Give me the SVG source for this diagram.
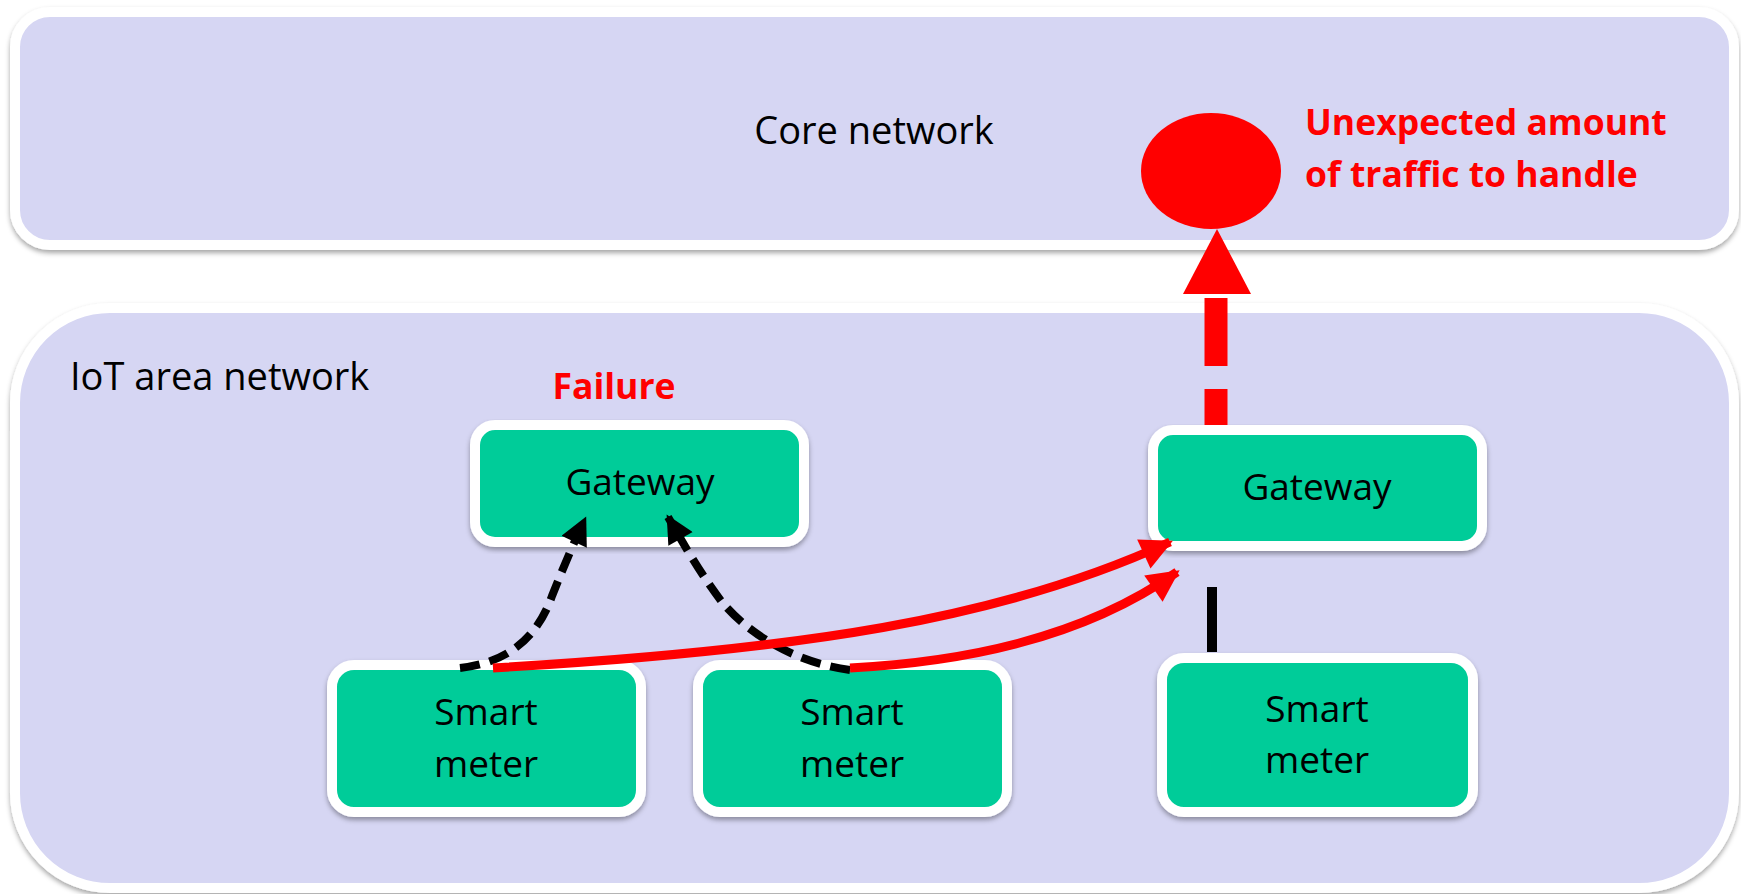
<svg xmlns="http://www.w3.org/2000/svg" width="1741" height="894" viewBox="0 0 1741 894">
  <style>
    .area { fill: #D6D6F3; stroke: #FFFFFF; stroke-width: 10; filter: url(#shadow); }
    .node { fill: #00CC99; stroke: #FFFFFF; stroke-width: 10; filter: url(#shadow); }
    .label { font-family: "Open Sans", "Liberation Sans", sans-serif; font-size: 38px; fill: #000000; }
    .nodetext { font-family: "Open Sans", "Liberation Sans", sans-serif; font-size: 37px; fill: #000000; text-anchor: middle; }
    .alert { font-family: "Open Sans", "Liberation Sans", sans-serif; font-size: 35.5px; font-weight: bold; fill: #FF0000; }
    .dashblack { fill: none; stroke: #000000; stroke-width: 8; stroke-dasharray: 20 10; marker-end: url(#headBlack); }
    .redcurve { fill: none; stroke: #FF0000; stroke-width: 9; marker-end: url(#headRed); }
  </style>
  <defs>
    <filter id="shadow" x="-5%" y="-5%" width="110%" height="115%">
      <feDropShadow dx="0" dy="3" stdDeviation="2.5" flood-color="#000000" flood-opacity="0.35"/>
    </filter>
    <marker id="headBlack" viewBox="0 0 10 10" refX="9" refY="5" markerUnits="userSpaceOnUse" markerWidth="30" markerHeight="28" orient="auto">
      <path d="M0,0 L10,5 L0,10 z" fill="#000000"/>
    </marker>
    <marker id="headRed" viewBox="0 0 10 10" refX="9" refY="5" markerUnits="userSpaceOnUse" markerWidth="36" markerHeight="32" orient="auto">
      <path d="M0,0 L10,5 L0,10 z" fill="#FF0000"/>
    </marker>
  </defs>

  <rect width="1741" height="894" fill="#FFFFFF"/>

  <g id="core-network">
    <rect class="area" x="15" y="12" width="1719" height="233" rx="35" ry="35"/>
    <text class="label" x="874" y="144" text-anchor="middle">Core network</text>
  </g>

  <g id="iot-area-network">
    <rect class="area" x="15" y="308" width="1719" height="580" rx="95" ry="95"/>
    <text class="label" x="70" y="390">IoT area network</text>
  </g>

  <g id="traffic-overload">
    <ellipse cx="1211" cy="171" rx="70" ry="58" fill="#FF0000"/>
    <text class="alert" x="1305" y="135">Unexpected amount</text>
    <text class="alert" x="1305" y="187">of traffic to handle</text>
  </g>

  <g id="gateway-failed">
    <text class="alert" x="614" y="399" text-anchor="middle">Failure</text>
    <rect class="node" x="475" y="425" width="329" height="117" rx="20" ry="20"/>
    <text class="nodetext" x="640" y="495">Gateway</text>
  </g>

  <g id="gateway-right">
    <rect class="node" x="1153" y="430" width="329" height="116" rx="20" ry="20"/>
    <text class="nodetext" x="1317" y="500">Gateway</text>
  </g>

  <g id="smart-meter-1">
    <rect class="node" x="332" y="665" width="309" height="147" rx="22" ry="22"/>
    <text class="nodetext" x="486" y="725">Smart</text>
    <text class="nodetext" x="486" y="777">meter</text>
  </g>

  <g id="smart-meter-2">
    <rect class="node" x="698" y="665" width="309" height="147" rx="22" ry="22"/>
    <text class="nodetext" x="852" y="725">Smart</text>
    <text class="nodetext" x="852" y="777">meter</text>
  </g>

  <g id="smart-meter-3">
    <rect class="node" x="1162" y="658" width="311" height="154" rx="22" ry="22"/>
    <text class="nodetext" x="1317" y="722">Smart</text>
    <text class="nodetext" x="1317" y="773">meter</text>
  </g>

  <g id="connectors">
    <path class="dashblack" d="M460,668 C515,662 540,630 552,596 C563,568 575,540 585,519"/>
    <path class="dashblack" d="M850,670 C790,662 745,630 722,602 C702,576 684,545 668,517"/>
    <path class="redcurve" d="M493,668 C800,650 1000,620 1170,542"/>
    <path class="redcurve" d="M850,668 C960,662 1080,640 1177,572"/>
    <line x1="1212" y1="587" x2="1212" y2="652" stroke="#000000" stroke-width="10"/>
    <path d="M1216,425 L1216,298" fill="none" stroke="#FF0000" stroke-width="23" stroke-dasharray="36 23 68 100"/>
    <polygon points="1217,229 1251,294 1183,294" fill="#FF0000"/>
  </g>
</svg>
